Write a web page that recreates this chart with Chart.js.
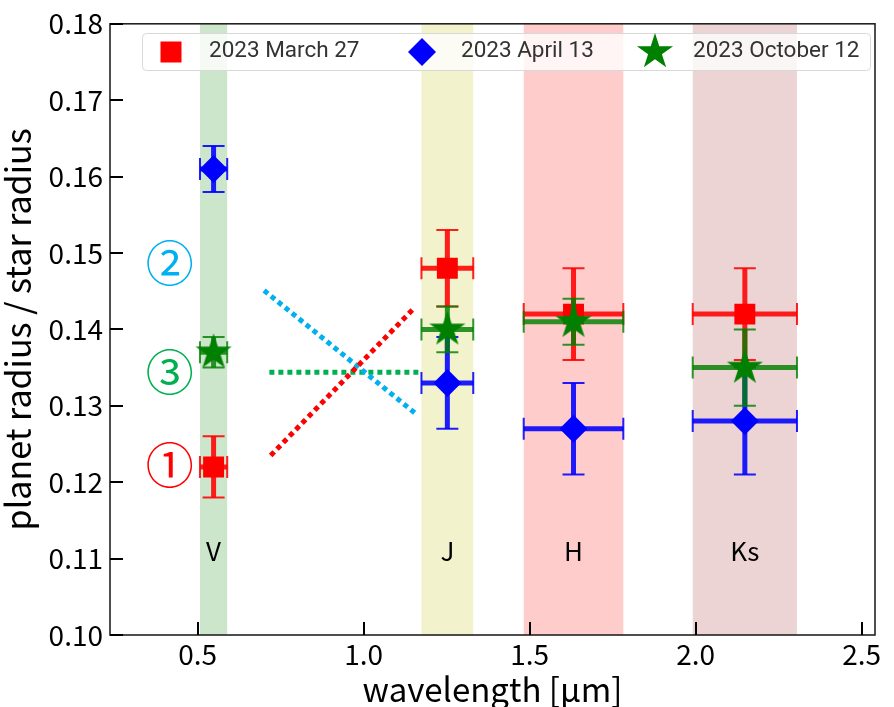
<!DOCTYPE html>
<html>
<head>
<meta charset="utf-8">
<script src="https://cdn.jsdelivr.net/npm/chart.js@4.4.0/dist/chart.umd.min.js"></script>
<style>
  html, body { margin: 0; padding: 0; background: #fff; }
  #wrap { width: 894px; height: 707px; }
</style>
</head>
<body>
<div id="wrap"><canvas id="radiusChart" width="894" height="707"></canvas></div>
<script>
// filter bands (µm)
const bands = ['V', 'J', 'H', 'Ks'];
const bandCenters = [0.548, 1.252, 1.632, 2.148];
const bandHalfWidths = [0.041, 0.078, 0.15, 0.157];
const bandColors = ['rgba(0,128,0,0.2)', 'rgba(191,191,0,0.2)', 'rgba(255,0,0,0.2)', 'rgba(165,42,42,0.2)'];
const bandLabelY = 0.111;

// planet radius / star radius per observing night
const march27 = [0.122, 0.148, 0.142, 0.142];
const march27Err = [0.004, 0.005, 0.006, 0.006];
const april13 = [0.161, 0.133, 0.127, 0.128];
const april13Err = [0.003, 0.006, 0.006, 0.007];
const october12 = [0.137, 0.140, 0.141, 0.135];
const october12Err = [0.002, 0.003, 0.003, 0.005];

const xTicks = [0.5, 1.0, 1.5, 2.0, 2.5];
const yTicks = [0.10, 0.11, 0.12, 0.13, 0.14, 0.15, 0.16, 0.17, 0.18];

// dotted guide lines and circled marks
const guideRedX = [0.72, 1.15], guideRedY = [0.1235, 0.1427];
const guideBlueX = [0.70, 1.156], guideBlueY = [0.1451, 0.129];
const guideGreenX = [0.716, 1.166], guideGreenY = [0.1344, 0.1344];
const markTexts = ['①', '②', '③'];
const markX = 0.416;
const markY = [0.1223, 0.1487, 0.1345];
const markColors = ['#ff0000', '#00b0f0', '#00b050'];

function makeStar(R, color) {
  const c = document.createElement('canvas');
  const s = Math.ceil(2 * R + 2);
  c.width = s; c.height = s;
  const g = c.getContext('2d');
  g.fillStyle = color;
  g.beginPath();
  for (let k = 0; k < 10; k++) {
    const r = k % 2 === 0 ? R : R * 0.381966;
    const a = -Math.PI / 2 + k * Math.PI / 5;
    const px = s / 2 + r * Math.cos(a), py = s / 2 + r * Math.sin(a);
    if (k === 0) g.moveTo(px, py); else g.lineTo(px, py);
  }
  g.closePath();
  g.fill();
  return c;
}
const starImg = makeStar(19, '#008000');

const points = (ys) => ys.map((v, i) => ({ x: bandCenters[i], y: v }));
const guide = (xs, ys) => xs.map((v, i) => ({ x: v, y: ys[i] }));

const bandPlugin = {
  id: 'bands',
  beforeDatasetsDraw(chart) {
    const { ctx, chartArea: a, scales: { x, y } } = chart;
    ctx.save();
    bands.forEach((b, i) => {
      const x0 = x.getPixelForValue(bandCenters[i] - bandHalfWidths[i]);
      const x1 = x.getPixelForValue(bandCenters[i] + bandHalfWidths[i]);
      ctx.fillStyle = bandColors[i];
      ctx.fillRect(x0, a.top, x1 - x0, a.bottom - a.top);
    });
    ctx.fillStyle = '#000';
    ctx.font = '26px "Noto Sans CJK JP"';
    ctx.textAlign = 'center';
    ctx.textBaseline = 'middle';
    bands.forEach((b, i) => {
      ctx.fillText(b, x.getPixelForValue(bandCenters[i]), y.getPixelForValue(bandLabelY));
    });
    ctx.font = '48px "Noto Sans CJK JP"';
    markTexts.forEach((t, i) => {
      ctx.fillStyle = markColors[i];
      ctx.fillText(t, x.getPixelForValue(markX), y.getPixelForValue(markY[i]));
    });
    ctx.restore();
  }
};

const errorBarPlugin = {
  id: 'errorBars',
  beforeDatasetDraw(chart, args) {
    const ds = chart.data.datasets[args.index];
    if (!ds.yErr) return;
    const { ctx, scales: { x, y } } = chart;
    ctx.save();
    ctx.strokeStyle = ds.barColor;
    ds.data.forEach((p, i) => {
      const px = x.getPixelForValue(p.x), py = y.getPixelForValue(p.y);
      const x0 = x.getPixelForValue(p.x - bandHalfWidths[i]);
      const x1 = x.getPixelForValue(p.x + bandHalfWidths[i]);
      const y0 = y.getPixelForValue(p.y - ds.yErr[i]);
      const y1 = y.getPixelForValue(p.y + ds.yErr[i]);
      ctx.lineWidth = 5;
      ctx.beginPath();
      ctx.moveTo(x0, py); ctx.lineTo(x1, py);
      ctx.moveTo(px, y0); ctx.lineTo(px, y1);
      ctx.stroke();
      const cap = 11;
      ctx.lineWidth = 2;
      ctx.beginPath();
      ctx.moveTo(px - cap, y0); ctx.lineTo(px + cap, y0);
      ctx.moveTo(px - cap, y1); ctx.lineTo(px + cap, y1);
      ctx.moveTo(x0, py - cap); ctx.lineTo(x0, py + cap);
      ctx.moveTo(x1, py - cap); ctx.lineTo(x1, py + cap);
      ctx.stroke();
    });
    ctx.restore();
  }
};

const legendPlugin = {
  id: 'insideLegend',
  afterDatasetsDraw(chart) {
    const { ctx } = chart;
    ctx.save();
    ctx.beginPath();
    ctx.roundRect(142.5, 33.5, 728, 37, 4);
    ctx.fillStyle = 'rgba(255,255,255,0.8)';
    ctx.fill();
    ctx.strokeStyle = '#d8d8d8';
    ctx.lineWidth = 1;
    ctx.stroke();
    // markers
    ctx.fillStyle = '#ff0000';
    ctx.fillRect(160.5, 41.5, 21, 21);
    ctx.fillStyle = '#0000ff';
    ctx.beginPath();
    ctx.moveTo(422, 38); ctx.lineTo(436, 52); ctx.lineTo(422, 66); ctx.lineTo(408, 52);
    ctx.closePath(); ctx.fill();
    ctx.drawImage(starImg, 655 - starImg.width / 2, 52 - starImg.height / 2);
    ctx.fillStyle = '#333';
    ctx.font = '22.5px Roboto';
    ctx.textAlign = 'left';
    ctx.textBaseline = 'middle';
    ctx.fillText('2023 March 27', 209, 51);
    ctx.fillText('2023 April 13', 461, 51);
    ctx.fillText('2023 October 12', 693, 51);
    ctx.restore();
  }
};

const framePlugin = {
  id: 'frame',
  afterDraw(chart) {
    const { ctx, chartArea: a, scales: { x, y } } = chart;
    ctx.save();
    ctx.strokeStyle = '#222';
    ctx.lineWidth = 1.6;
    ctx.strokeRect(a.left, a.top, a.right - a.left, a.bottom - a.top);
    ctx.strokeStyle = '#000';
    ctx.lineWidth = 2;
    ctx.beginPath();
    yTicks.forEach(v => {
      const py = Math.round(y.getPixelForValue(v));
      ctx.moveTo(a.left, py); ctx.lineTo(a.left + 13, py);
    });
    xTicks.forEach(v => {
      const px = Math.round(x.getPixelForValue(v));
      ctx.moveTo(px, a.bottom); ctx.lineTo(px, a.bottom - 13);
    });
    ctx.stroke();
    ctx.restore();
  }
};

const tickFont = { family: '"Noto Sans CJK JP"', size: 28 };

new Chart(document.getElementById('radiusChart'), {
  type: 'scatter',
  data: {
    datasets: [
      { type: 'line', data: guide(guideRedX, guideRedY), borderColor: '#ff0000', borderWidth: 5,
        borderDash: [5, 4], pointRadius: 0, order: 5 },
      { type: 'line', data: guide(guideBlueX, guideBlueY), borderColor: '#00b0f0', borderWidth: 5,
        borderDash: [5, 4], pointRadius: 0, order: 5 },
      { type: 'line', data: guide(guideGreenX, guideGreenY), borderColor: '#00b050', borderWidth: 5,
        borderDash: [5, 4], pointRadius: 0, order: 5 },
      { label: '2023 March 27', data: points(march27), yErr: march27Err, barColor: 'rgba(255,0,0,0.88)',
        pointStyle: 'rect', pointRadius: 14.8, backgroundColor: '#ff0000', borderColor: '#ff0000',
        borderWidth: 0, order: 3 },
      { label: '2023 April 13', data: points(april13), yErr: april13Err, barColor: 'rgba(0,0,255,0.88)',
        pointStyle: 'rectRot', pointRadius: 14, backgroundColor: '#0000ff', borderColor: '#0000ff',
        borderWidth: 0, order: 2 },
      { label: '2023 October 12', data: points(october12), yErr: october12Err, barColor: 'rgba(0,128,0,0.82)',
        pointStyle: starImg, pointRadius: 19, backgroundColor: '#008000', borderColor: '#008000',
        borderWidth: 0, order: 1 }
    ]
  },
  options: {
    responsive: false,
    animation: false,
    events: [],
    layout: { padding: { top: 23, right: 14, left: 0, bottom: 0 } },
    plugins: { legend: { display: false }, tooltip: { enabled: false } },
    scales: {
      x: {
        type: 'linear', min: 0.236, max: 2.54,
        afterBuildTicks: s => { s.ticks = xTicks.map(v => ({ value: v })); },
        afterFit: s => { s.height = 72; },
        grid: { display: false, drawTicks: false },
        border: { display: false },
        ticks: { font: tickFont, color: '#000', padding: 3, callback: v => v.toFixed(1) },
        title: { display: true, text: 'wavelength [µm]', color: '#000',
          font: { family: '"Noto Sans CJK JP"', size: 33, lineHeight: 1 }, padding: { top: 0, bottom: 1 } }
      },
      y: {
        type: 'linear', min: 0.10, max: 0.18,
        afterBuildTicks: s => { s.ticks = yTicks.map(v => ({ value: v })); },
        afterFit: s => { s.width = 110; },
        grid: { display: false, drawTicks: false },
        border: { display: false },
        ticks: { font: tickFont, color: '#000', padding: 7, callback: v => v.toFixed(2) },
        title: { display: true, text: 'planet radius / star radius', color: '#000',
          font: { family: '"Noto Sans CJK JP"', size: 34, lineHeight: 1 }, padding: { top: 1, bottom: 0 } }
      }
    }
  },
  plugins: [bandPlugin, errorBarPlugin, legendPlugin, framePlugin]
});
</script>
</body>
</html>
